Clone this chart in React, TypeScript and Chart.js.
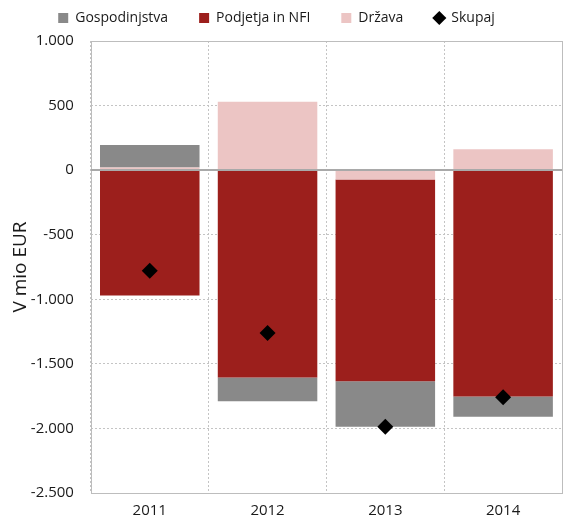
import React, { useEffect, useRef } from "react";
import { Chart, registerables } from "chart.js";

Chart.register(...registerables);

const categories = ["2011", "2012", "2013", "2014"];
const gospodinjstva = [175, -185, -352, -157];
const podjetja = [-970, -1605, -1563, -1753];
const drzava = [20, 530, -72, 162];
const skupaj = [-780, -1262, -1987, -1758];
const yTicks = [1000, 500, 0, -500, -1000, -1500, -2000, -2500];

const fmt = (v: number) => {
  const s = Math.abs(v).toString().replace(/\B(?=(\d{3})+(?!\d))/g, ".");
  return (v < 0 ? "-" : "") + s;
};

const framePlugin = {
  id: "frame",
  beforeLayout(chart: any) {
    const lg = chart.legend;
    if (lg && !lg.__patched) {
      const orig = lg.fit.bind(lg);
      lg.fit = () => {
        orig();
        lg.height += 6;
      };
      lg.__patched = true;
    }
  },
  afterLayout(chart: any) {
    const lg = chart.legend;
    if (lg) {
      lg.left -= 9;
      lg.right -= 9;
    }
  },
  beforeDatasetsDraw(chart: any) {
    const { ctx, chartArea: a } = chart;
    ctx.save();
    ctx.strokeStyle = "#bdbdbd";
    ctx.lineWidth = 1;
    ctx.strokeRect(Math.round(a.left) + 0.5, Math.round(a.top) + 0.5, Math.round(a.right - a.left), Math.round(a.bottom - a.top));
    ctx.restore();
  },
  afterDatasetsDraw(chart: any) {
    const { ctx, chartArea: a, scales } = chart;
    const y = Math.round(scales.y.getPixelForValue(0));
    ctx.save();
    ctx.strokeStyle = "#a9a9a9";
    ctx.lineWidth = 2;
    ctx.beginPath();
    ctx.moveTo(a.left, y);
    ctx.lineTo(a.right, y);
    ctx.stroke();
    ctx.restore();
  },
};

const legendRank = [2, 1, 0, 3];

export default function App() {
  const ref = useRef<HTMLCanvasElement>(null);
  useEffect(() => {
    if (!ref.current) return;
    Chart.defaults.font.family = "'Open Sans', sans-serif";
    const chart = new Chart(ref.current, {
      type: "bar",
      data: {
        labels: categories,
        datasets: [
          { label: "Država", data: drzava, backgroundColor: "#ecc5c4", stack: "s", pointStyle: "rect" } as any,
          { label: "Podjetja in NFI", data: podjetja, backgroundColor: "#9c1f1c", stack: "s", pointStyle: "rect" } as any,
          { label: "Gospodinjstva", data: gospodinjstva, backgroundColor: "#898989", stack: "s", pointStyle: "rect" } as any,
          {
            type: "line",
            label: "Skupaj",
            data: skupaj,
            stack: "total",
            showLine: false,
            pointStyle: "rectRot",
            pointRadius: 8,
            pointHoverRadius: 8,
            pointBorderWidth: 0,
            backgroundColor: "#000000",
            borderColor: "#000000",
            order: -1,
          } as any,
        ],
      },
      options: {
        animation: false,
        responsive: false,
        layout: { autoPadding: false, padding: { left: 9, right: 3, top: -20, bottom: -9 } },
        datasets: { bar: { barPercentage: 0.845, categoryPercentage: 1 } } as any,
        plugins: {
          tooltip: { enabled: false },
          legend: {
            position: "top",
            labels: {
              usePointStyle: true,
              boxHeight: 10,
              boxWidth: 10,
              padding: 31,
              color: "#1a1a1a",
              font: { size: 14 },
              sort: (a: any, b: any) => legendRank[a.datasetIndex] - legendRank[b.datasetIndex],
            },
          },
        },
        scales: {
          x: {
            stacked: true,
            grid: { color: "#c4c4c4", drawTicks: false, offset: true },
            border: { display: false, dash: [2, 2] },
            ticks: { color: "#1a1a1a", font: { size: 15 }, padding: 9 },
          },
          y: {
            stacked: true,
            min: -2500,
            max: 1000,
            afterBuildTicks: (axis: any) => {
              axis.ticks = yTicks.map((v) => ({ value: v }));
            },
            grid: {
              color: (c: any) => (c.tick && c.tick.value === 0 ? "transparent" : "#c4c4c4"),
              drawTicks: false,
            },
            border: { display: false, dash: [2, 2] },
            ticks: { color: "#1a1a1a", font: { size: 15 }, padding: 17, callback: (v: any) => fmt(Number(v)) },
            title: { display: true, text: "V mio EUR", color: "#1a1a1a", font: { size: 19 }, padding: { top: 0, bottom: -18 } },
          },
        },
      },
      plugins: [framePlugin],
    });
    return () => chart.destroy();
  }, []);
  return (
    <div style={{ position: "fixed", left: 0, top: 0, width: 565, height: 520, background: "#fff" }}>
      <canvas ref={ref} width={565} height={520} style={{ display: "block", width: 565, height: 520 }} />
    </div>
  );
}
